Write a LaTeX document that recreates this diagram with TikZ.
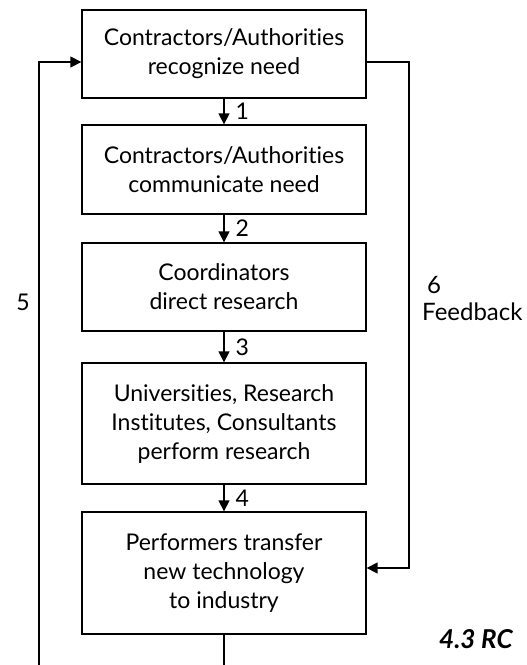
\documentclass[tikz,border=0pt]{standalone}
\usepackage{fontspec}
\setmainfont[Ligatures={NoCommon}]{Lato}
\usetikzlibrary{arrows.meta}
\begin{document}
\begin{tikzpicture}[x=1pt,y=-1pt,
  stepbox/.style={draw,line width=1.3pt,minimum width=284pt,align=center,inner sep=0pt,
    font=\fontsize{23}{29}\selectfont},
  flow/.style={line width=1.4pt,-{Triangle[length=11pt,width=11pt]}},
  lab/.style={font=\fontsize{23}{29}\selectfont,inner sep=0pt}]
\useasboundingbox (0,0) rectangle (527,665);
\node[stepbox,minimum height=88pt] (b1) at (224,54) {Contractors/Authorities\\recognize need};
\node[stepbox,minimum height=89pt] (b2) at (224,169.5) {Contractors/Authorities\\communicate need};
\node[stepbox,minimum height=88pt] (b3) at (224,287) {Coordinators\\direct research};
\node[stepbox,minimum height=121pt] (b4) at (224,423.5) {Universities, Research\\Institutes, Consultants\\perform research};
\node[stepbox,minimum height=122pt] (b5) at (224,573) {Performers transfer\\new technology\\to industry};
\draw[flow] (b1) -- node[lab,right=11pt] {1} (b2);
\draw[flow] (b2) -- node[lab,right=11pt] {2} (b3);
\draw[flow] (b3) -- node[lab,right=11pt] {3} (b4);
\draw[flow] (b4) -- node[lab,right=11pt] {4} (b5);
\coordinate (c5) at (39,670);
\coordinate (c6) at (409,62);
\draw[flow] (b5.south) |- (c5) |- ([yshift=-8pt]b1.west);
\draw[flow] ([yshift=-8pt]b1.east) -- (c6) |- ([yshift=5pt]b5.east);
\node[lab] (n5) at (23,302) {5};
\node[font=\fontsize{24}{27}\selectfont,inner sep=0pt,align=left,anchor=base west] (fb) at (422,320) {\hspace*{5pt}6\\Feedback};
\node[font=\fontsize{26}{30}\selectfont\bfseries\itshape,anchor=base west,inner sep=0pt] (h) at (439,648) {4.3 RC};
\end{tikzpicture}
\end{document}
